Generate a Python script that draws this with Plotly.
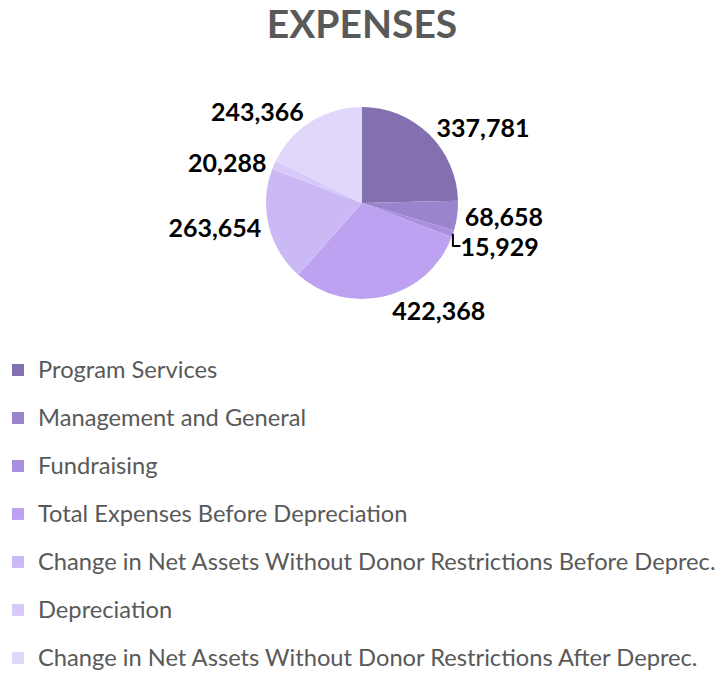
import plotly.graph_objects as go

categories = [
    "Program Services",
    "Management and General",
    "Fundraising",
    "Total Expenses Before Depreciation",
    "Change in Net Assets Without Donor Restrictions Before Deprec.",
    "Depreciation",
    "Change in Net Assets Without Donor Restrictions After Deprec.",
]
values = [337781, 68658, 15929, 422368, 263654, 20288, 243366]
colors = ["#8270b0", "#9a85cc", "#a98fe0", "#bda2f2", "#cbb9f5", "#d7caf8", "#e1d7fa"]

W, H = 724, 673
cx, cy, r = 362, 203, 96

legend_labels = [f"<span style='font-size:23.7px;baseline-shift:5px'>{c}</span>" for c in categories]

fig = go.Figure(go.Pie(
    labels=legend_labels,
    values=values,
    sort=False,
    direction="clockwise",
    rotation=0,
    marker=dict(colors=colors, line=dict(width=0)),
    textposition="outside",
    texttemplate="%{value:,}",
    textfont=dict(family="Lato", size=25, color="black", weight="bold"),
    domain=dict(x=[(cx - r) / W, (cx + r) / W], y=[(H - cy - r) / H, (H - cy + r) / H]),
    hoverinfo="value+percent",
))

fig.update_layout(
    width=W, height=H,
    margin=dict(l=0, r=0, t=0, b=0, autoexpand=False),
    paper_bgcolor="white",
    title=dict(text="<b>EXPENSES</b>", x=0.5, xanchor="center", y=1 - 24 / H, yanchor="middle",
               yref="container",
               font=dict(family="Lato", size=39, color="#595959")),
    legend=dict(
        x=-2 / W, xanchor="left", y=1 - 341 / H, yanchor="top",
        font=dict(family="Lato", size=34.6, color="#595959"),
        bgcolor="rgba(0,0,0,0)",
    ),
)

fig.write_html("out.html")
